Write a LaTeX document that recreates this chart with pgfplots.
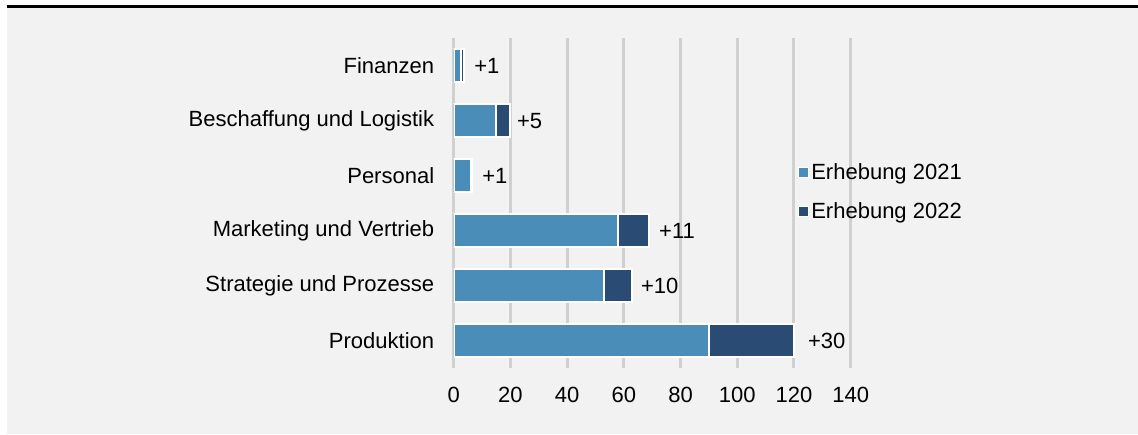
\documentclass[border=0pt]{standalone}
\usepackage{fontspec}
\setmainfont{Liberation Sans}
\usepackage{pgfplots}
\pgfplotsset{compat=1.18}
\usepackage{pgfplotstable}
\definecolor{bgc}{HTML}{F2F2F2}
\definecolor{lb}{HTML}{4A8DB8}
\definecolor{db}{HTML}{2A4B73}
\definecolor{gridc}{HTML}{D0D0D0}
% pos: category position; a: Erhebung 2021; t: Erhebung 2022 (total); lab: increase; lx: label position
\pgfplotstableread{
pos a t lab lx
0 90 120 +30 124.9
1 53 63 +10 66.0
2 58 69 +11 72.4
3 6 6.3 +1 10.0
4 15 20 +5 22.3
5 2.5 3.5 +1 7.2
}\datatable
\begin{document}
\begin{tikzpicture}[x=1pt,y=1pt]
\fill[white] (0,0) rectangle (1138,435);
\fill[bgc] (7,1) rectangle (1138,427.3);
\fill[black] (7,427.3) rectangle (1138,429.7);
\begin{axis}[
  at={(453.7pt,66.7pt)}, anchor=south west,
  scale only axis, width=397pt, height=330pt,
  xbar, bar width=33pt,
  xmin=0, xmax=140, ymin=-0.5, ymax=5.5,
  xtick={0,20,...,140}, ytick={0,...,5},
  yticklabels={Produktion, Strategie und Prozesse, Marketing und Vertrieb, Personal, Beschaffung und Logistik, Finanzen},
  xmajorgrids, grid style={gridc, line width=3pt},
  axis line style={draw=none}, major tick length=0pt,
  tick label style={font=\fontsize{22}{26}\selectfont},
  /pgf/number format/assume math mode=true,
  yticklabel style={xshift=-16pt},
  xticklabel style={yshift=-15pt},
  legend style={at={(0.86,0.535)}, anchor=west, draw=none, fill=none,
    font=\fontsize{22}{26}\selectfont, row sep=18pt, legend cell align=left},
  legend image code/.code={\draw[#1, draw=white, line width=1pt] (0pt,-5pt) rectangle (10pt,5pt);},
]
\addplot[forget plot, bar shift=0pt, fill=db, draw=white, line width=2pt] table[x=t, y=pos] {\datatable};
\addplot[forget plot, bar shift=0pt, fill=lb, draw=white, line width=2pt] table[x=a, y=pos] {\datatable};
\addplot[forget plot, bar shift=0pt, draw=none, fill=none,
  nodes near coords, point meta=explicit symbolic,
  nodes near coords style={anchor=west, inner sep=0pt, font=\fontsize{22}{26}\selectfont, text=black}]
  table[x=lx, y=pos, meta=lab] {\datatable};
\addlegendimage{fill=lb}
\addlegendentry{Erhebung 2021}
\addlegendimage{fill=db}
\addlegendentry{Erhebung 2022}
\end{axis}
\end{tikzpicture}
\end{document}
